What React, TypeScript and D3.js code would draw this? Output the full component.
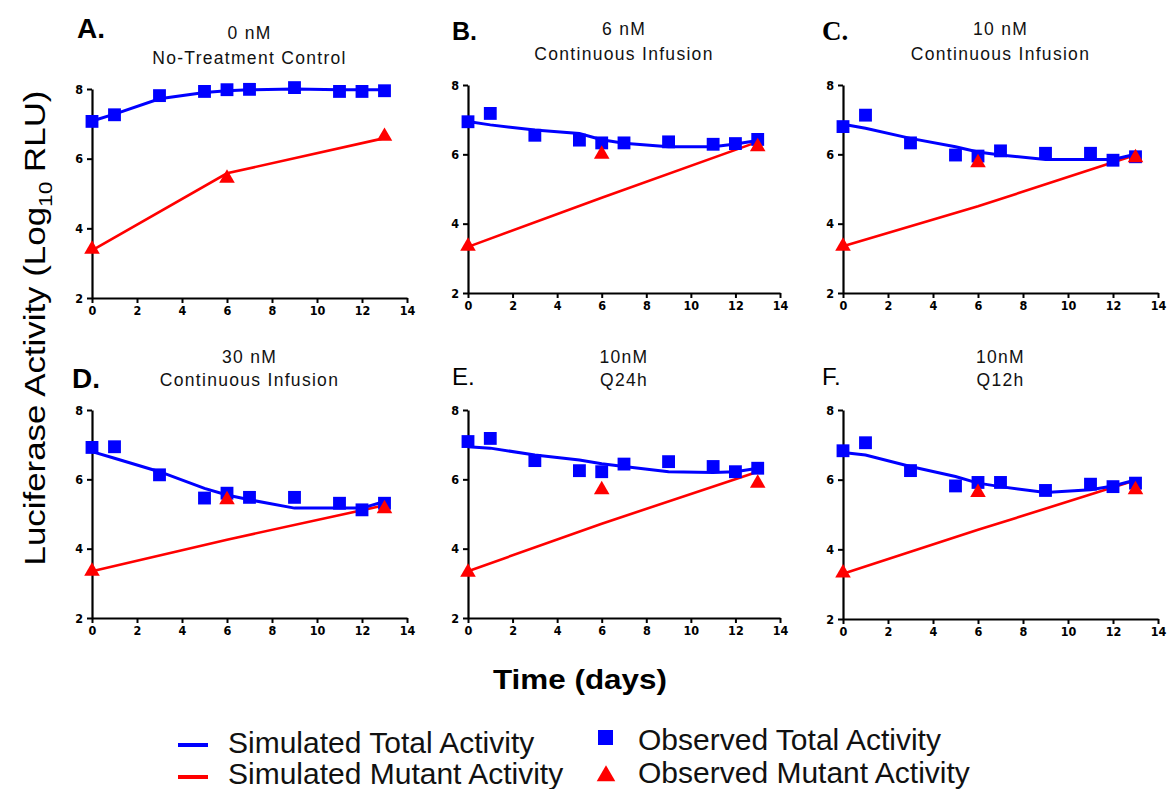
import { useEffect, useRef } from 'react';
import * as d3 from 'd3';

// sampling days
const totalDays = [0, 1, 3, 5, 6, 7, 9, 11, 12, 13];
const mutantDays = [0, 6, 13];
const xTicks = [0, 2, 4, 6, 8, 10, 12, 14];
const yTicks = [2, 4, 6, 8];

const panelLetters = ['A.', 'B.', 'C.', 'D.', 'E.', 'F.'];
const doseLabels = ['0 nM', '6 nM', '10 nM', '30 nM', '10nM', '10nM'];
const regimenLabels = [
  'No-Treatment Control',
  'Continuous Infusion',
  'Continuous Infusion',
  'Continuous Infusion',
  'Q24h',
  'Q12h',
];

// A. 0 nM
const obsTotalA = [7.07, 7.26, 7.81, 7.93, 7.98, 7.99, 8.04, 7.93, 7.93, 7.95];
const simTotalA = [7.08, 7.28, 7.72, 7.9, 7.95, 7.98, 8.0, 7.98, 7.98, 7.98];
const obsMutantA = [3.4, 5.44, 6.64];
const simMutantA = [3.37, 5.58, 6.59];

// B. 6 nM continuous
const obsTotalB = [6.94, 7.18, 6.55, 6.41, 6.33, 6.33, 6.36, 6.29, 6.31, 6.43];
const simTotalB = [6.95, 6.85, 6.7, 6.6, 6.42, 6.32, 6.22, 6.22, 6.3, 6.4];
const obsMutantB = [3.35, 6.0, 6.22];
const simMutantB = [3.33, 4.75, 6.36];

// C. 10 nM continuous
const obsTotalC = [6.8, 7.13, 6.33, 5.98, 5.95, 6.1, 6.03, 6.03, 5.83, 5.93];
const simTotalC = [6.87, 6.75, 6.46, 6.22, 6.07, 5.98, 5.85, 5.85, 5.85, 6.0];
const obsMutantC = [3.35, 5.76, 5.9];
const simMutantC = [3.35, 4.5, 5.98];

// D. 30 nM continuous
const obsTotalD = [6.92, 6.94, 6.13, 5.46, 5.6, 5.48, 5.48, 5.31, 5.12, 5.31];
const simTotalD = [6.8, 6.61, 6.22, 5.74, 5.55, 5.41, 5.17, 5.17, 5.17, 5.36];
const obsMutantD = [3.35, 5.41, 5.15];
const simMutantD = [3.35, 4.26, 5.25];

// E. 10 nM Q24h
const obsTotalE = [7.09, 7.18, 6.54, 6.25, 6.22, 6.44, 6.51, 6.37, 6.22, 6.32];
const simTotalE = [6.94, 6.9, 6.7, 6.56, 6.45, 6.37, 6.22, 6.2, 6.22, 6.32];
const obsMutantE = [3.32, 5.7, 5.89];
const simMutantE = [3.35, 4.72, 6.22];

// F. 10 nM Q12h
const obsTotalF = [6.83, 7.06, 6.26, 5.82, 5.92, 5.92, 5.69, 5.87, 5.8, 5.9];
const simTotalF = [6.78, 6.71, 6.38, 6.09, 5.9, 5.8, 5.63, 5.71, 5.82, 5.99];
const obsMutantF = [3.32, 5.63, 5.71];
const simMutantF = [3.3, 4.56, 5.98];

const panels = [
  { obsTotal: obsTotalA, simTotal: simTotalA, obsMutant: obsMutantA, simMutant: simMutantA },
  { obsTotal: obsTotalB, simTotal: simTotalB, obsMutant: obsMutantB, simMutant: simMutantB },
  { obsTotal: obsTotalC, simTotal: simTotalC, obsMutant: obsMutantC, simMutant: simMutantC },
  { obsTotal: obsTotalD, simTotal: simTotalD, obsMutant: obsMutantD, simMutant: simMutantD },
  { obsTotal: obsTotalE, simTotal: simTotalE, obsMutant: obsMutantE, simMutant: simMutantE },
  { obsTotal: obsTotalF, simTotal: simTotalF, obsMutant: obsMutantF, simMutant: simMutantF },
];

const legendLines = ['Simulated Total Activity', 'Simulated Mutant Activity'];
const legendMarkers = ['Observed Total Activity', 'Observed Mutant Activity'];

const WIDTH = 1167;
const HEIGHT = 789;
const BLUE = '#0000ff';
const RED = '#ff0000';
const SANS = "'Liberation Sans', Arial, sans-serif";
const NARROW = "'Liberation Sans Narrow', 'DejaVu Sans Condensed', 'Liberation Sans', sans-serif";

// plot frames of the six panels
const frames = [
  { left: 92, right: 407, top: 89, bottom: 298 },
  { left: 468, right: 780, top: 85, bottom: 293 },
  { left: 843, right: 1158, top: 85, bottom: 293 },
  { left: 92, right: 407, top: 410, bottom: 618 },
  { left: 468, right: 780, top: 410, bottom: 618 },
  { left: 843, right: 1158, top: 410, bottom: 619 },
];

// the panel letters were set in mixed fonts in the original
const letterStyles = [
  { x: 77, y: 38, size: 28, weight: 900, family: SANS },
  { x: 452, y: 40, size: 25, weight: 700, family: SANS },
  { x: 822, y: 40, size: 27, weight: 700, family: "'Liberation Serif', serif" },
  { x: 72, y: 388, size: 28, weight: 700, family: SANS },
  { x: 452, y: 385, size: 24, weight: 400, family: SANS },
  { x: 822, y: 385, size: 24, weight: 400, family: SANS },
];

export default function App() {
  const svgRef = useRef<SVGSVGElement>(null);

  useEffect(() => {
    if (!svgRef.current) return;
    const svg = d3.select(svgRef.current);
    svg.selectAll('*').remove();

    const styleAxis = (ax: d3.Selection<SVGGElement, unknown, null, undefined>) => {
      ax.select('.domain').attr('stroke', '#000').attr('stroke-width', 2.2);
      ax.selectAll('.tick line').attr('stroke', '#000').attr('stroke-width', 2);
      ax.selectAll('.tick text')
        .attr('fill', '#000')
        .attr('font-size', 12.5)
        .attr('font-weight', 700)
        .attr('font-family', NARROW);
    };

    panels.forEach((panel, i) => {
      const f = frames[i];
      const x = d3.scaleLinear().domain([0, 14]).range([f.left, f.right]);
      const y = d3.scaleLinear().domain([2, 8]).range([f.bottom, f.top]);
      const g = svg.append('g');
      const bottomRow = i >= 3;

      // titles
      const cx = (f.left + f.right) / 2;
      [doseLabels[i], regimenLabels[i]].forEach((label, k) => {
        g.append('text')
          .attr('x', cx)
          .attr('y', f.top - (bottomRow ? [47, 24][k] : [50, 25][k]))
          .attr('text-anchor', 'middle')
          .attr('font-family', SANS)
          .attr('font-size', 17.5)
          .attr('letter-spacing', 1.3)
          .attr('fill', '#111')
          .text(label);
      });

      const ls = letterStyles[i];
      g.append('text')
        .attr('x', ls.x)
        .attr('y', ls.y)
        .attr('font-family', ls.family)
        .attr('font-size', ls.size)
        .attr('font-weight', ls.weight)
        .attr('fill', '#000')
        .text(panelLetters[i]);

      // axes
      g.append('g')
        .attr('transform', `translate(0,${f.bottom})`)
        .call(
          d3
            .axisBottom(x)
            .tickValues(xTicks)
            .tickFormat(d3.format('d'))
            .tickSize(5)
            .tickSizeOuter(0)
            .tickPadding(3)
        )
        .call(styleAxis);

      g.append('g')
        .attr('transform', `translate(${f.left},0)`)
        .call(
          d3
            .axisLeft(y)
            .tickValues(yTicks)
            .tickFormat(d3.format('d'))
            .tickSize(5)
            .tickSizeOuter(0)
            .tickPadding(4)
        )
        .call(styleAxis);

      const line = d3
        .line<[number, number]>()
        .x((d) => x(d[0]))
        .y((d) => y(d[1]));

      const simTotal = totalDays.map((d, k) => [d, panel.simTotal[k]] as [number, number]);
      const simMutant = mutantDays.map((d, k) => [d, panel.simMutant[k]] as [number, number]);

      g.append('path')
        .attr('d', line(simMutant))
        .attr('fill', 'none')
        .attr('stroke', RED)
        .attr('stroke-width', 2.6);

      g.append('path')
        .attr('d', line(simTotal))
        .attr('fill', 'none')
        .attr('stroke', BLUE)
        .attr('stroke-width', 3);

      const square = d3.symbol(d3.symbolSquare, 165);
      const triangle = d3.symbol(d3.symbolTriangle, 105);

      g.append('g')
        .selectAll('path')
        .data(totalDays.map((d, k) => [d, panel.obsTotal[k]]))
        .join('path')
        .attr('d', square)
        .attr('transform', (d) => `translate(${x(d[0])},${y(d[1])})`)
        .attr('fill', BLUE);

      g.append('g')
        .selectAll('path')
        .data(mutantDays.map((d, k) => [d, panel.obsMutant[k]]))
        .join('path')
        .attr('d', triangle)
        .attr('transform', (d) => `translate(${x(d[0])},${y(d[1])})`)
        .attr('fill', RED);
    });

    // y axis label
    const yl = svg
      .append('text')
      .attr('transform', 'translate(45,328) rotate(-90)')
      .attr('text-anchor', 'middle')
      .attr('font-family', SANS)
      .attr('font-size', 29)
      .attr('fill', '#000')
      .attr('textLength', 475)
      .attr('lengthAdjust', 'spacingAndGlyphs');
    yl.append('tspan').text('Luciferase Activity (Log');
    yl.append('tspan').attr('dy', 7).attr('font-size', 19).text('10');
    yl.append('tspan').attr('dy', -7).text(' RLU)');

    // x axis label
    svg
      .append('text')
      .attr('x', 580)
      .attr('y', 689)
      .attr('text-anchor', 'middle')
      .attr('font-family', SANS)
      .attr('font-size', 27)
      .attr('font-weight', 700)
      .attr('fill', '#000')
      .attr('textLength', 174)
      .attr('lengthAdjust', 'spacingAndGlyphs')
      .text('Time (days)');

    // legend
    const legend = svg.append('g');
    [BLUE, RED].forEach((color, k) => {
      const ly = [745, 777][k];
      legend
        .append('line')
        .attr('x1', 178)
        .attr('x2', 208)
        .attr('y1', ly)
        .attr('y2', ly)
        .attr('stroke', color)
        .attr('stroke-width', 4);
      legend
        .append('text')
        .attr('x', 228)
        .attr('y', [753, 784][k])
        .attr('font-family', SANS)
        .attr('font-size', 30)
        .attr('fill', '#111')
        .text(legendLines[k]);
    });

    legend
      .append('path')
      .attr('d', d3.symbol(d3.symbolSquare, 225)())
      .attr('transform', 'translate(605.5,737.5)')
      .attr('fill', BLUE);
    legend
      .append('path')
      .attr('d', d3.symbol(d3.symbolTriangle, 150)())
      .attr('transform', 'translate(606,776)')
      .attr('fill', RED);

    legendMarkers.forEach((label, k) => {
      legend
        .append('text')
        .attr('x', 638)
        .attr('y', [750, 783][k])
        .attr('font-family', SANS)
        .attr('font-size', 30)
        .attr('fill', '#111')
        .text(label);
    });
  }, []);

  return (
    <svg
      ref={svgRef}
      width={WIDTH}
      height={HEIGHT}
      viewBox={`0 0 ${WIDTH} ${HEIGHT}`}
      style={{ position: 'absolute', left: 0, top: 0, background: '#fff' }}
    />
  );
}
